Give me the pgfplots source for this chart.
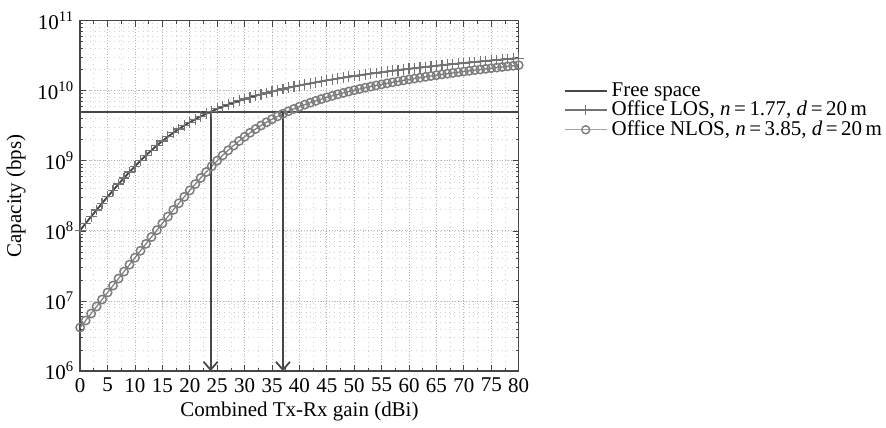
\documentclass[border=0pt]{standalone}
\usepackage{fontspec}
\setmainfont{Liberation Serif}
\usepackage{pgfplots}
\pgfplotsset{compat=1.18}
\usepackage{pgfplotstable}
\usetikzlibrary{arrows.meta}
\definecolor{fsc}{RGB}{70,70,70}
\definecolor{losc}{RGB}{115,115,115}
\definecolor{nlosc}{RGB}{125,125,125}
\definecolor{axc}{RGB}{70,70,70}

\pgfplotstableread{
x y
0 1.02609e8
1 1.28286e8
2 1.60120e8
3 1.99446e8
4 2.47806e8
5 3.06967e8
6 3.78889e8
7 4.65678e8
8 5.69526e8
9 6.92574e8
10 8.36821e8
11 1.003943e9
12 1.195143e9
13 1.411073e9
14 1.651717e9
15 1.916436e9
16 2.204052e9
17 2.512826e9
18 2.840830e9
19 3.185890e9
20 3.545813e9
21 3.918513e9
22 4.302024e9
23 4.694545e9
24 5.094554e9
25 5.500724e9
26 5.911937e9
27 6.327215e9
28 6.745808e9
29 7.167055e9
30 7.590437e9
31 8.015529e9
32 8.441997e9
33 8.869557e9
34 9.297999e9
35 9.727131e9
36 1.015686e10
37 1.058700e10
38 1.101732e10
39 1.144808e10
40 1.187906e10
41 1.231022e10
42 1.274152e10
43 1.317294e10
44 1.360444e10
45 1.403601e10
46 1.446763e10
47 1.489931e10
48 1.533102e10
49 1.576276e10
50 1.619452e10
51 1.662630e10
52 1.705808e10
53 1.74900e10
54 1.79218e10
55 1.83537e10
56 1.87855e10
57 1.92174e10
58 1.96492e10
59 2.00811e10
60 2.05129e10
61 2.09448e10
62 2.13766e10
63 2.18085e10
64 2.22403e10
65 2.26722e10
66 2.31040e10
67 2.35359e10
68 2.39677e10
69 2.43996e10
70 2.48314e10
71 2.52633e10
72 2.56951e10
73 2.61270e10
74 2.65588e10
75 2.69907e10
76 2.74225e10
77 2.78544e10
78 2.82862e10
79 2.87181e10
80 2.91499e10
}\freespace

\pgfplotstableread{
x y
0 1.02609e8
1 1.28286e8
2 1.60120e8
3 1.99446e8
4 2.47806e8
5 3.06967e8
6 3.78889e8
7 4.65678e8
8 5.69526e8
9 6.92574e8
10 8.36821e8
11 1.003943e9
12 1.195143e9
13 1.411073e9
14 1.651717e9
15 1.916436e9
16 2.204052e9
17 2.512826e9
18 2.840830e9
19 3.185890e9
20 3.545813e9
21 3.918513e9
22 4.302024e9
23 4.694545e9
24 5.094554e9
25 5.500724e9
26 5.911937e9
27 6.327215e9
28 6.745808e9
29 7.167055e9
30 7.590437e9
31 8.015529e9
32 8.441997e9
33 8.869557e9
34 9.297999e9
35 9.727131e9
36 1.015686e10
37 1.058700e10
38 1.101732e10
39 1.144808e10
40 1.187906e10
41 1.231022e10
42 1.274152e10
43 1.317294e10
44 1.360444e10
45 1.403601e10
46 1.446763e10
47 1.489931e10
48 1.533102e10
49 1.576276e10
50 1.619452e10
51 1.662630e10
52 1.705808e10
53 1.74900e10
54 1.79218e10
55 1.83537e10
56 1.87855e10
57 1.92174e10
58 1.96492e10
59 2.00811e10
60 2.05129e10
61 2.09448e10
62 2.13766e10
63 2.18085e10
64 2.22403e10
65 2.26722e10
66 2.31040e10
67 2.35359e10
68 2.39677e10
69 2.43996e10
70 2.48314e10
71 2.52633e10
72 2.56951e10
73 2.61270e10
74 2.65588e10
75 2.69907e10
76 2.74225e10
77 2.78544e10
78 2.82862e10
79 2.87181e10
80 2.91499e10
}\officelos

\pgfplotstableread{
x y
0 4.194e6
1 5.278e6
2 6.643e6
3 8.359e6
4 1.0517e7
5 1.3231e7
6 1.6641e7
7 2.0926e7
8 2.6307e7
9 3.3058e7
10 4.1524e7
11 5.2128e7
12 6.5392e7
13 8.1958e7
14 1.02609e8
15 1.28286e8
16 1.60120e8
17 1.99446e8
18 2.47806e8
19 3.06967e8
20 3.78889e8
21 4.65678e8
22 5.69526e8
23 6.92574e8
24 8.36821e8
25 1.003943e9
26 1.195143e9
27 1.411073e9
28 1.651717e9
29 1.916436e9
30 2.204052e9
31 2.512826e9
32 2.840830e9
33 3.185890e9
34 3.545813e9
35 3.918513e9
36 4.302024e9
37 4.694545e9
38 5.094554e9
39 5.500724e9
40 5.911937e9
41 6.327215e9
42 6.745808e9
43 7.167055e9
44 7.590437e9
45 8.015529e9
46 8.441997e9
47 8.869557e9
48 9.297999e9
49 9.727131e9
50 1.015686e10
51 1.058700e10
52 1.101732e10
53 1.144808e10
54 1.187906e10
55 1.231022e10
56 1.274152e10
57 1.317294e10
58 1.360444e10
59 1.403601e10
60 1.446763e10
61 1.489931e10
62 1.533102e10
63 1.576276e10
64 1.619452e10
65 1.662630e10
66 1.705808e10
67 1.74900e10
68 1.79218e10
69 1.83537e10
70 1.87855e10
71 1.92174e10
72 1.96492e10
73 2.00811e10
74 2.05129e10
75 2.09448e10
76 2.13766e10
77 2.18085e10
78 2.22403e10
79 2.26722e10
80 2.31040e10
}\officenlos

\begin{document}
\begin{tikzpicture}
\begin{axis}[
  scale only axis,
  width=219.5pt, height=175.5pt,
  ymode=log,
  xmin=0, xmax=80, ymin=1e6, ymax=1e11,
  xtick={0,5,...,80},
  ytick={1e6,1e7,1e8,1e9,1e10,1e11},
  yticklabels={10\textsuperscript{6},10\textsuperscript{7},10\textsuperscript{8},10\textsuperscript{9},10\textsuperscript{10},10\textsuperscript{11}},
  minor x tick num=1,
  grid=both,
  major grid style={densely dotted, gray!60, line width=0.45pt},
  minor grid style={dotted, gray!38, line width=0.4pt},
  tick align=inside,
  tick pos=both,
  major tick length=3pt,
  minor tick length=1.5pt,
  tick style={axc, line width=0.4pt},
  axis line style={draw=axc, line width=0.8pt},
  /pgf/number format/assume math mode=true,
  font=\fontsize{10.5}{12}\selectfont,
  tick label style={font=\fontsize{10.5}{12}\selectfont},
  xlabel={Combined Tx-Rx gain (dBi)},
  ylabel={Capacity (bps)},
  xticklabel style={yshift=0pt},
  yticklabel style={xshift=0.5pt},
  xlabel style={yshift=2pt},
  ylabel style={yshift=-1pt},
  legend cell align=left,
  legend style={at={(rel axis cs:1.103,0.835)}, anchor=north west,
    draw=none, fill=none, font=\fontsize{10.5}{12}\selectfont,
    inner sep=0pt, outer sep=0pt, row sep=-3pt},
  legend image code/.code={\draw[mark repeat=2,mark phase=2,#1] plot coordinates {(0cm,0cm) (0.37cm,0cm) (0.74cm,0cm)};},
]
\addlegendimage{fsc, line width=0.9pt}
\addlegendentry{Free space}
\addlegendimage{losc, line width=0.6pt, mark=+, mark size=2.7pt, mark options={line width=0.6pt}}
\addlegendentry{Office LOS, \textit{n}\,=\,1.77, \textit{d}\,=\,20\,m}
\addlegendimage{nlosc!70, line width=0.6pt, mark=o, mark size=2pt, mark options={nlosc, line width=0.7pt}}
\addlegendentry{Office NLOS, \textit{n}\,=\,3.85, \textit{d}\,=\,20\,m}

\addplot[forget plot, losc, line width=0.6pt, mark=+, mark size=2.7pt, mark options={line width=0.6pt}] table[x=x,y=y] {\officelos};
\addplot[forget plot, nlosc, line width=0.6pt, mark=o, mark size=2.1pt, mark options={line width=0.75pt}] table[x=x,y=y] {\officenlos};
\addplot[forget plot, fsc, line width=0.9pt] table[x=x,y=y] {\freespace};
\addplot[forget plot, fsc, line width=0.9pt] coordinates {(0,5e9) (80,5e9)};
\addplot[forget plot, fsc, line width=0.9pt, -{Straight Barb[length=4pt,width=7pt,line width=0.9pt]}] coordinates {(23.8,5e9) (23.8,1e6)};
\addplot[forget plot, fsc, line width=0.9pt, -{Straight Barb[length=4pt,width=7pt,line width=0.9pt]}] coordinates {(37,5e9) (37,1e6)};
\end{axis}
\path (current bounding box.north) ++(0,2.5pt);
\end{tikzpicture}
\end{document}
